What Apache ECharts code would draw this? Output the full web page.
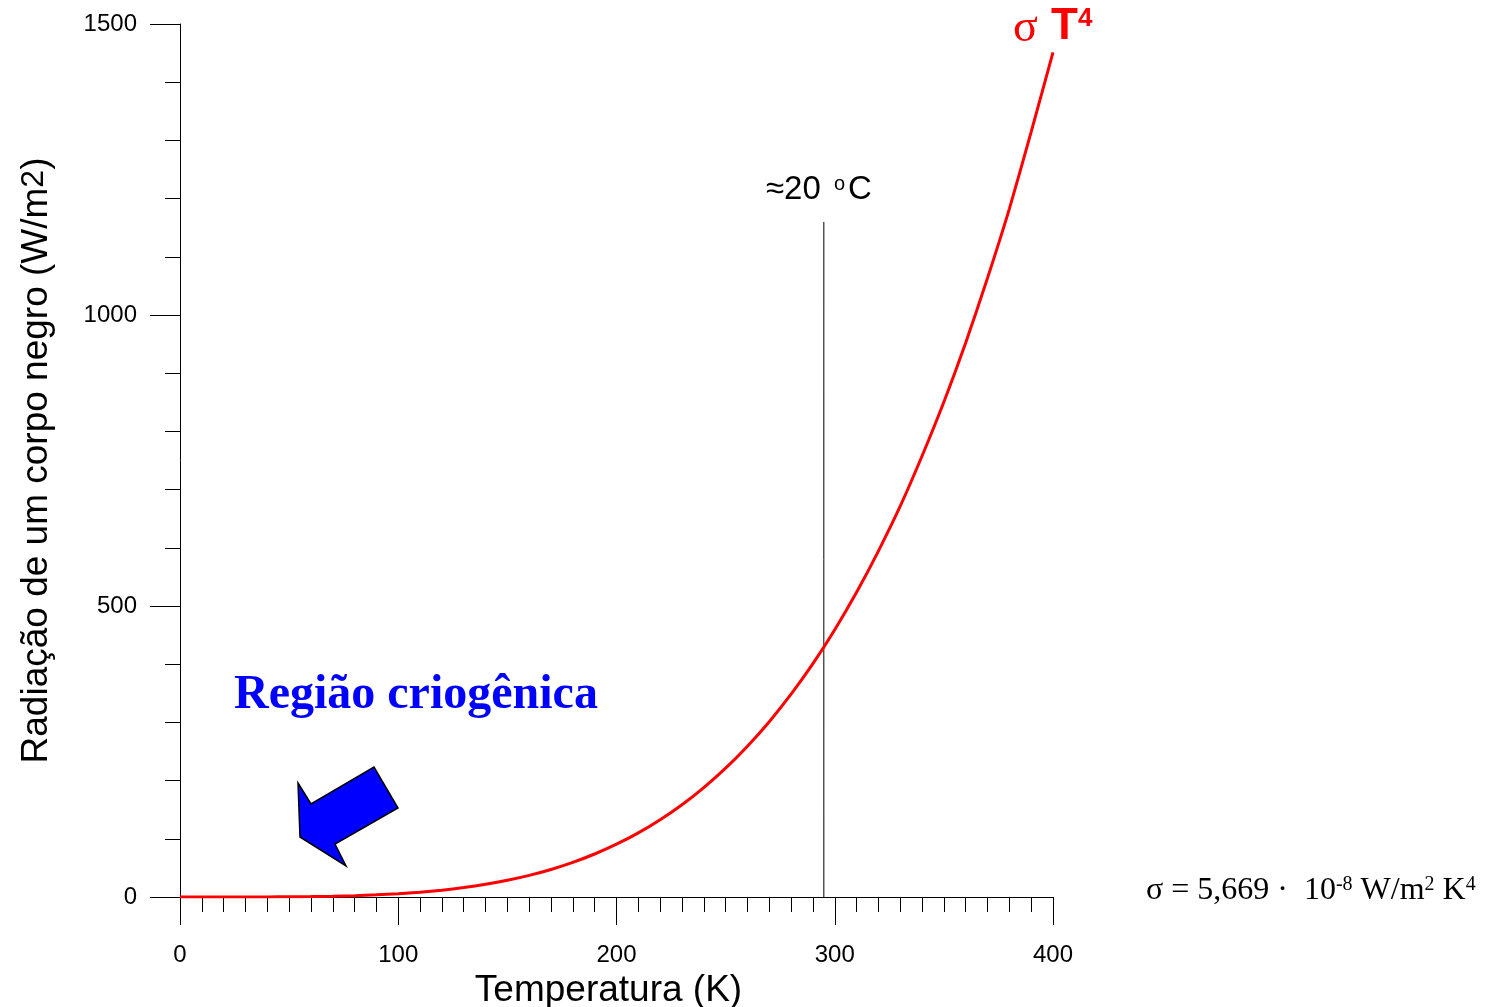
<!DOCTYPE html>
<html><head><meta charset="utf-8">
<script src="https://cdn.jsdelivr.net/npm/echarts@6/dist/echarts.min.js"></script>
<style>html,body{margin:0;padding:0;background:#fff}#c{width:1490px;height:1007px}</style>
</head><body><div id="c"></div>
<script>
// Temperature (K) samples
const temperatures = [0,10,20,30,40,50,60,70,80,90,100,110,120,130,140,150,160,170,180,190,200,210,220,230,240,250,260,270,280,290,300,310,320,330,340,350,360,370,380,390,400];
// Black-body radiation (W/m2)
const radiation = [0,0.0006,0.009,0.046,0.145,0.354,0.73,1.36,2.32,3.72,5.67,8.30,11.76,16.19,21.78,28.70,37.15,47.35,59.51,73.88,90.70,110.2,132.8,158.6,188.1,221.4,259.1,301.2,348.5,400.9,459.2,523.6,594.4,671.4,757.7,850.4,952.2,1063.6,1182.4,1314.7,1451.2];
// Reference vertical line (~20 °C)
const refLineT = [295, 295];
const refLineR = [0, 1160];
// Axis tick values
const xTickValues = [0,100,200,300,400];
const yTickValues = [0,500,1000,1500];

const SANS = '"Liberation Sans", Arial, sans-serif';
const SERIF = '"Liberation Serif", "Times New Roman", serif';

const chart = echarts.init(document.getElementById('c'), null, {renderer:'canvas'});
const option = {
  backgroundColor:'#fff',
  animation:false,
  grid:{left:180, right:437, top:24, bottom:110, containLabel:false, outerBoundsMode:'none'},
  xAxis:{
    type:'value', min:xTickValues[0], max:xTickValues[xTickValues.length-1], interval:xTickValues[1]-xTickValues[0],
    axisLine:{show:true, onZero:false, lineStyle:{color:'#000', width:1}},
    axisTick:{show:true, length:28, lineStyle:{color:'#000', width:1}},
    minorTick:{show:true, splitNumber:10, length:15, lineStyle:{color:'#000', width:1}},
    splitLine:{show:false}, minorSplitLine:{show:false},
    axisLabel:{fontSize:24, color:'#000', fontFamily:SANS, margin:46, formatter:v=>String(v)},
    name:'Temperatura (K)', nameLocation:'middle', nameGap:70,
    nameTextStyle:{fontSize:37, color:'#000', fontFamily:SANS, padding:[0,16,0,0]}
  },
  yAxis:{
    type:'value', min:yTickValues[0], max:yTickValues[yTickValues.length-1], interval:yTickValues[1]-yTickValues[0],
    axisLine:{show:true, onZero:false, lineStyle:{color:'#000', width:1}},
    axisTick:{show:true, length:30, lineStyle:{color:'#000', width:1}},
    minorTick:{show:true, splitNumber:5, length:15, lineStyle:{color:'#000', width:1}},
    splitLine:{show:false}, minorSplitLine:{show:false},
    axisLabel:{fontSize:24, color:'#000', fontFamily:SANS, margin:43, formatter:v=>String(v)},
    name:'Radiação de um corpo negro (W/m{s|2})', nameLocation:'middle', nameGap:124, nameRotate:90,
    nameTextStyle:{fontSize:37, color:'#000', fontFamily:SANS,
      rich:{s:{fontSize:32, fontFamily:SANS, color:'#000', verticalAlign:'top', padding:[0,0,6,0]}}}
  },
  series:[
    {type:'line', data:temperatures.map((t,i)=>[t, radiation[i]]), showSymbol:false, symbol:'none',
     smooth:0.2, lineStyle:{color:'#ff0000', width:3}, z:3},
    {type:'line', data:refLineT.map((t,i)=>[t, refLineR[i]]), showSymbol:false, symbol:'none',
     lineStyle:{color:'#000', width:1}, z:2}
  ],
  graphic:[
    {type:'text', x:766, y:190, style:{text:'≈20', font:'33px '+SANS, fill:'#000', textVerticalAlign:'middle'}},
    {type:'text', x:834, y:184, style:{text:'o', font:'20px '+SANS, fill:'#000', textVerticalAlign:'middle'}},
    {type:'text', x:848, y:190, style:{text:'C', font:'33px '+SANS, fill:'#000', textVerticalAlign:'middle'}},
    {type:'text', x:1013, y:29, style:{text:'σ', font:'46px '+SERIF, fill:'#ff0000', textVerticalAlign:'middle'}},
    {type:'text', x:1051, y:27, style:{text:'T', font:'bold 44px '+SANS, fill:'#ff0000', textVerticalAlign:'middle'}},
    {type:'text', x:1078, y:19, style:{text:'4', font:'bold 26px '+SANS, fill:'#ff0000', textVerticalAlign:'middle'}},
    {type:'text', x:234, y:696, style:{text:'Região criogênica', font:'bold 48px '+SERIF, fill:'#0000ff', textVerticalAlign:'middle'}},
    {type:'text', x:1146, y:891, style:{
      text:'{a|σ = 5,669 ·  10}{s|-8}{a| W/m}{s|2}{a| K}{s|4}',
      textVerticalAlign:'middle',
      rich:{a:{fontSize:32, fontFamily:SERIF, fill:'#000', color:'#000'},
            s:{fontSize:20, fontFamily:SERIF, fill:'#000', color:'#000', verticalAlign:'top'}}}},
    {type:'polygon', shape:{points:[[298,783],[311,804],[374,767],[398,808],[335,844],[346,866],[300,837]]},
     style:{fill:'#0000ff', stroke:'#000', lineWidth:1.5}}
  ]
};
chart.setOption(option);
</script>
</body></html>
